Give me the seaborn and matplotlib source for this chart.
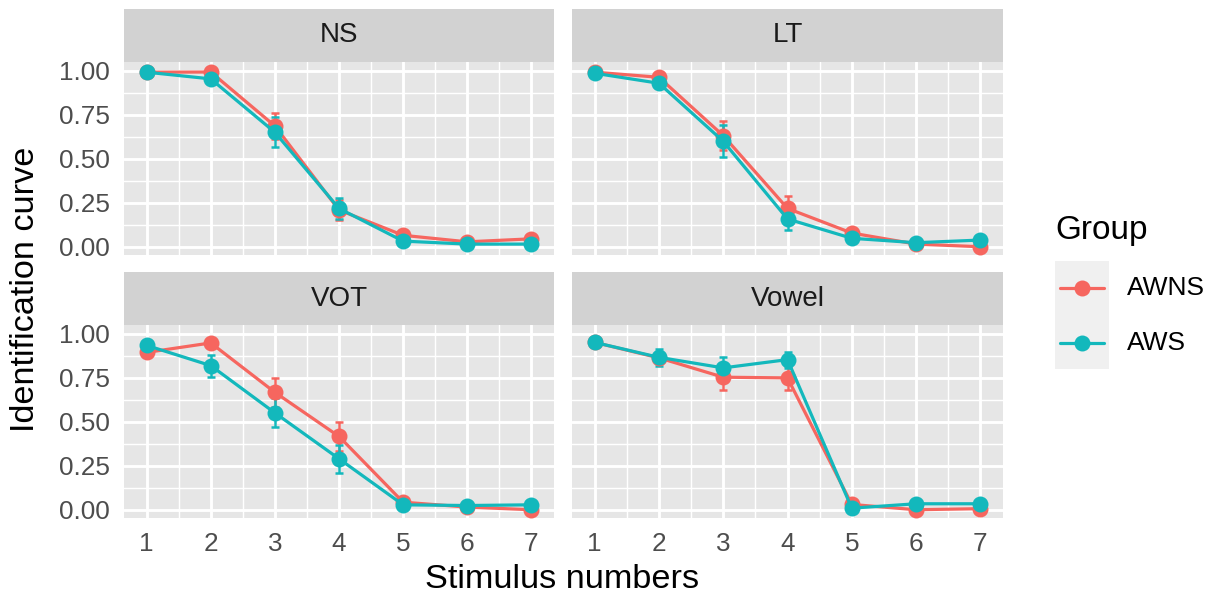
import matplotlib
matplotlib.use("Agg")
import matplotlib.pyplot as plt
from matplotlib.patches import Rectangle
from matplotlib.lines import Line2D
import numpy as np
import pandas as pd
import seaborn as sns

# ---- data -------------------------------------------------------------
stimulus = [1, 2, 3, 4, 5, 6, 7]
conditions = ["NS", "LT", "VOT", "Vowel"]
groups = ["AWNS", "AWS"]

ns_awns = [0.993, 0.994, 0.687, 0.209, 0.065, 0.028, 0.045]
ns_aws = [0.993, 0.955, 0.651, 0.218, 0.032, 0.015, 0.015]
ns_awns_se = [0.005, 0.008, 0.072, 0.057, 0.015, 0.010, 0.012]
ns_aws_se = [0.005, 0.012, 0.085, 0.060, 0.010, 0.008, 0.008]

lt_awns = [0.993, 0.964, 0.632, 0.218, 0.078, 0.015, 0.000]
lt_aws = [0.987, 0.930, 0.600, 0.158, 0.048, 0.023, 0.038]
lt_awns_se = [0.005, 0.010, 0.083, 0.070, 0.018, 0.008, 0.005]
lt_aws_se = [0.006, 0.015, 0.090, 0.060, 0.012, 0.008, 0.010]

vot_awns = [0.895, 0.949, 0.668, 0.417, 0.043, 0.015, 0.000]
vot_aws = [0.935, 0.820, 0.551, 0.290, 0.028, 0.024, 0.028]
vot_awns_se = [0.025, 0.015, 0.082, 0.080, 0.012, 0.008, 0.005]
vot_aws_se = [0.020, 0.063, 0.082, 0.080, 0.010, 0.008, 0.010]

vowel_awns = [0.952, 0.864, 0.754, 0.750, 0.030, 0.000, 0.006]
vowel_aws = [0.952, 0.867, 0.807, 0.854, 0.009, 0.034, 0.034]
vowel_awns_se = [0.010, 0.030, 0.070, 0.070, 0.012, 0.005, 0.006]
vowel_aws_se = [0.010, 0.050, 0.060, 0.045, 0.008, 0.010, 0.010]

means = {
    "NS": (ns_awns, ns_aws), "LT": (lt_awns, lt_aws),
    "VOT": (vot_awns, vot_aws), "Vowel": (vowel_awns, vowel_aws),
}
errors = {
    "NS": (ns_awns_se, ns_aws_se), "LT": (lt_awns_se, lt_aws_se),
    "VOT": (vot_awns_se, vot_aws_se), "Vowel": (vowel_awns_se, vowel_aws_se),
}

rows = []
for cond in conditions:
    for g, m, s in zip(groups, means[cond], errors[cond]):
        for x, mv, sv in zip(stimulus, m, s):
            rows.append({"condition": cond, "group": g, "stimulus": x,
                         "mean": mv, "se": sv})
df = pd.DataFrame(rows)

palette = {"AWNS": "#F6665F", "AWS": "#13B8BC"}

# ---- styling ------------------------------------------------------------
sns.set_style("white")
plt.rcParams["font.family"] = ["Liberation Sans", "DejaVu Sans"]

W, H = 1219, 600
fig = plt.figure(figsize=(W / 100, H / 100), dpi=100)


def fx(px):
    return px / W


def fy(py):
    return 1 - py / H


panel_x = [(124, 554), (572, 1003)]
panel_y = [(62, 255), (325, 518)]
strip_y = [(9, 62), (272, 325)]

for i, cond in enumerate(conditions):
    r, c = divmod(i, 2)
    x0, x1 = panel_x[c]
    y0, y1 = panel_y[r]
    ax = fig.add_axes([fx(x0), fy(y1), fx(x1 - x0), (y1 - y0) / H])
    ax.set_facecolor("#E6E6E6")
    sub = df[df["condition"] == cond]

    for g in groups:
        gd = sub[sub["group"] == g]
        ax.errorbar(gd["stimulus"], gd["mean"], yerr=gd["se"], fmt="none",
                    ecolor=palette[g], elinewidth=1.8, capsize=3.2,
                    capthick=1.8, zorder=3)
    sns.lineplot(data=sub, x="stimulus", y="mean", hue="group",
                 hue_order=groups, palette=palette, marker="o",
                 markersize=11.5, markeredgewidth=0, linewidth=2.3,
                 errorbar=None, legend=False, ax=ax, zorder=4)

    ax.set_xlim(0.647, 7.353)
    ax.set_ylim(-0.047, 1.051)
    ax.set_xticks(stimulus)
    ax.set_xticks(np.arange(1.5, 7, 1.0), minor=True)
    ax.set_yticks([0, 0.25, 0.5, 0.75, 1.0])
    ax.set_yticks([0.125, 0.375, 0.625, 0.875], minor=True)
    ax.grid(which="major", color="white", linewidth=2.1)
    ax.grid(which="minor", color="white", linewidth=1.05)
    ax.set_axisbelow(True)
    for sp in ax.spines.values():
        sp.set_visible(False)
    ax.tick_params(which="major", length=6, width=1.6, color="#333333",
                   labelsize=18.8, labelcolor="#4D4D4D", pad=4)
    ax.tick_params(which="minor", length=0)
    ax.set_xlabel("")
    ax.set_ylabel("")
    if c == 0:
        ax.set_yticklabels(["0.00", "0.25", "0.50", "0.75", "1.00"])
    else:
        ax.tick_params(axis="y", which="both", left=False, labelleft=False)
    if r == 0:
        ax.tick_params(axis="x", which="both", bottom=False, labelbottom=False)
    else:
        ax.set_xticklabels([str(s) for s in stimulus])

    # facet strip
    sy0, sy1 = strip_y[r]
    sax = fig.add_axes([fx(x0), fy(sy1), fx(x1 - x0), (sy1 - sy0) / H])
    sax.set_facecolor("#D2D2D2")
    sax.set_xticks([])
    sax.set_yticks([])
    for sp in sax.spines.values():
        sp.set_visible(False)
    sax.text(0.5, 0.5, cond, ha="center", va="center", fontsize=20,
             color="#1A1A1A", transform=sax.transAxes)

# axis titles
fig.text(fx(562), fy(579), "Stimulus numbers", ha="center", va="center",
         fontsize=24.7, color="black")
fig.text(fx(26), fy(289), "Identification curve", ha="center", va="center",
         rotation=90, fontsize=24.7, color="black")

# legend
fig.text(fx(1055), fy(230), "Group", ha="left", va="center", fontsize=24,
         color="black")
fig.patches.append(Rectangle((fx(1055), fy(369)), fx(1109 - 1055),
                             (369 - 261) / H, transform=fig.transFigure,
                             facecolor="#F0F0F0", edgecolor="none",
                             figure=fig))
for g, ky in zip(groups, [288, 343]):
    fig.lines.append(Line2D([fx(1060), fx(1104)], [fy(ky), fy(ky)],
                            transform=fig.transFigure, color=palette[g],
                            linewidth=2.3, figure=fig))
    fig.lines.append(Line2D([fx(1082)], [fy(ky)], transform=fig.transFigure,
                            color=palette[g], marker="o", markersize=11.5,
                            markeredgewidth=0, linestyle="none", figure=fig))
    fig.text(fx(1127), fy(ky), g, ha="left", va="center", fontsize=19,
             color="black")

fig.savefig("out.png", dpi=100)
